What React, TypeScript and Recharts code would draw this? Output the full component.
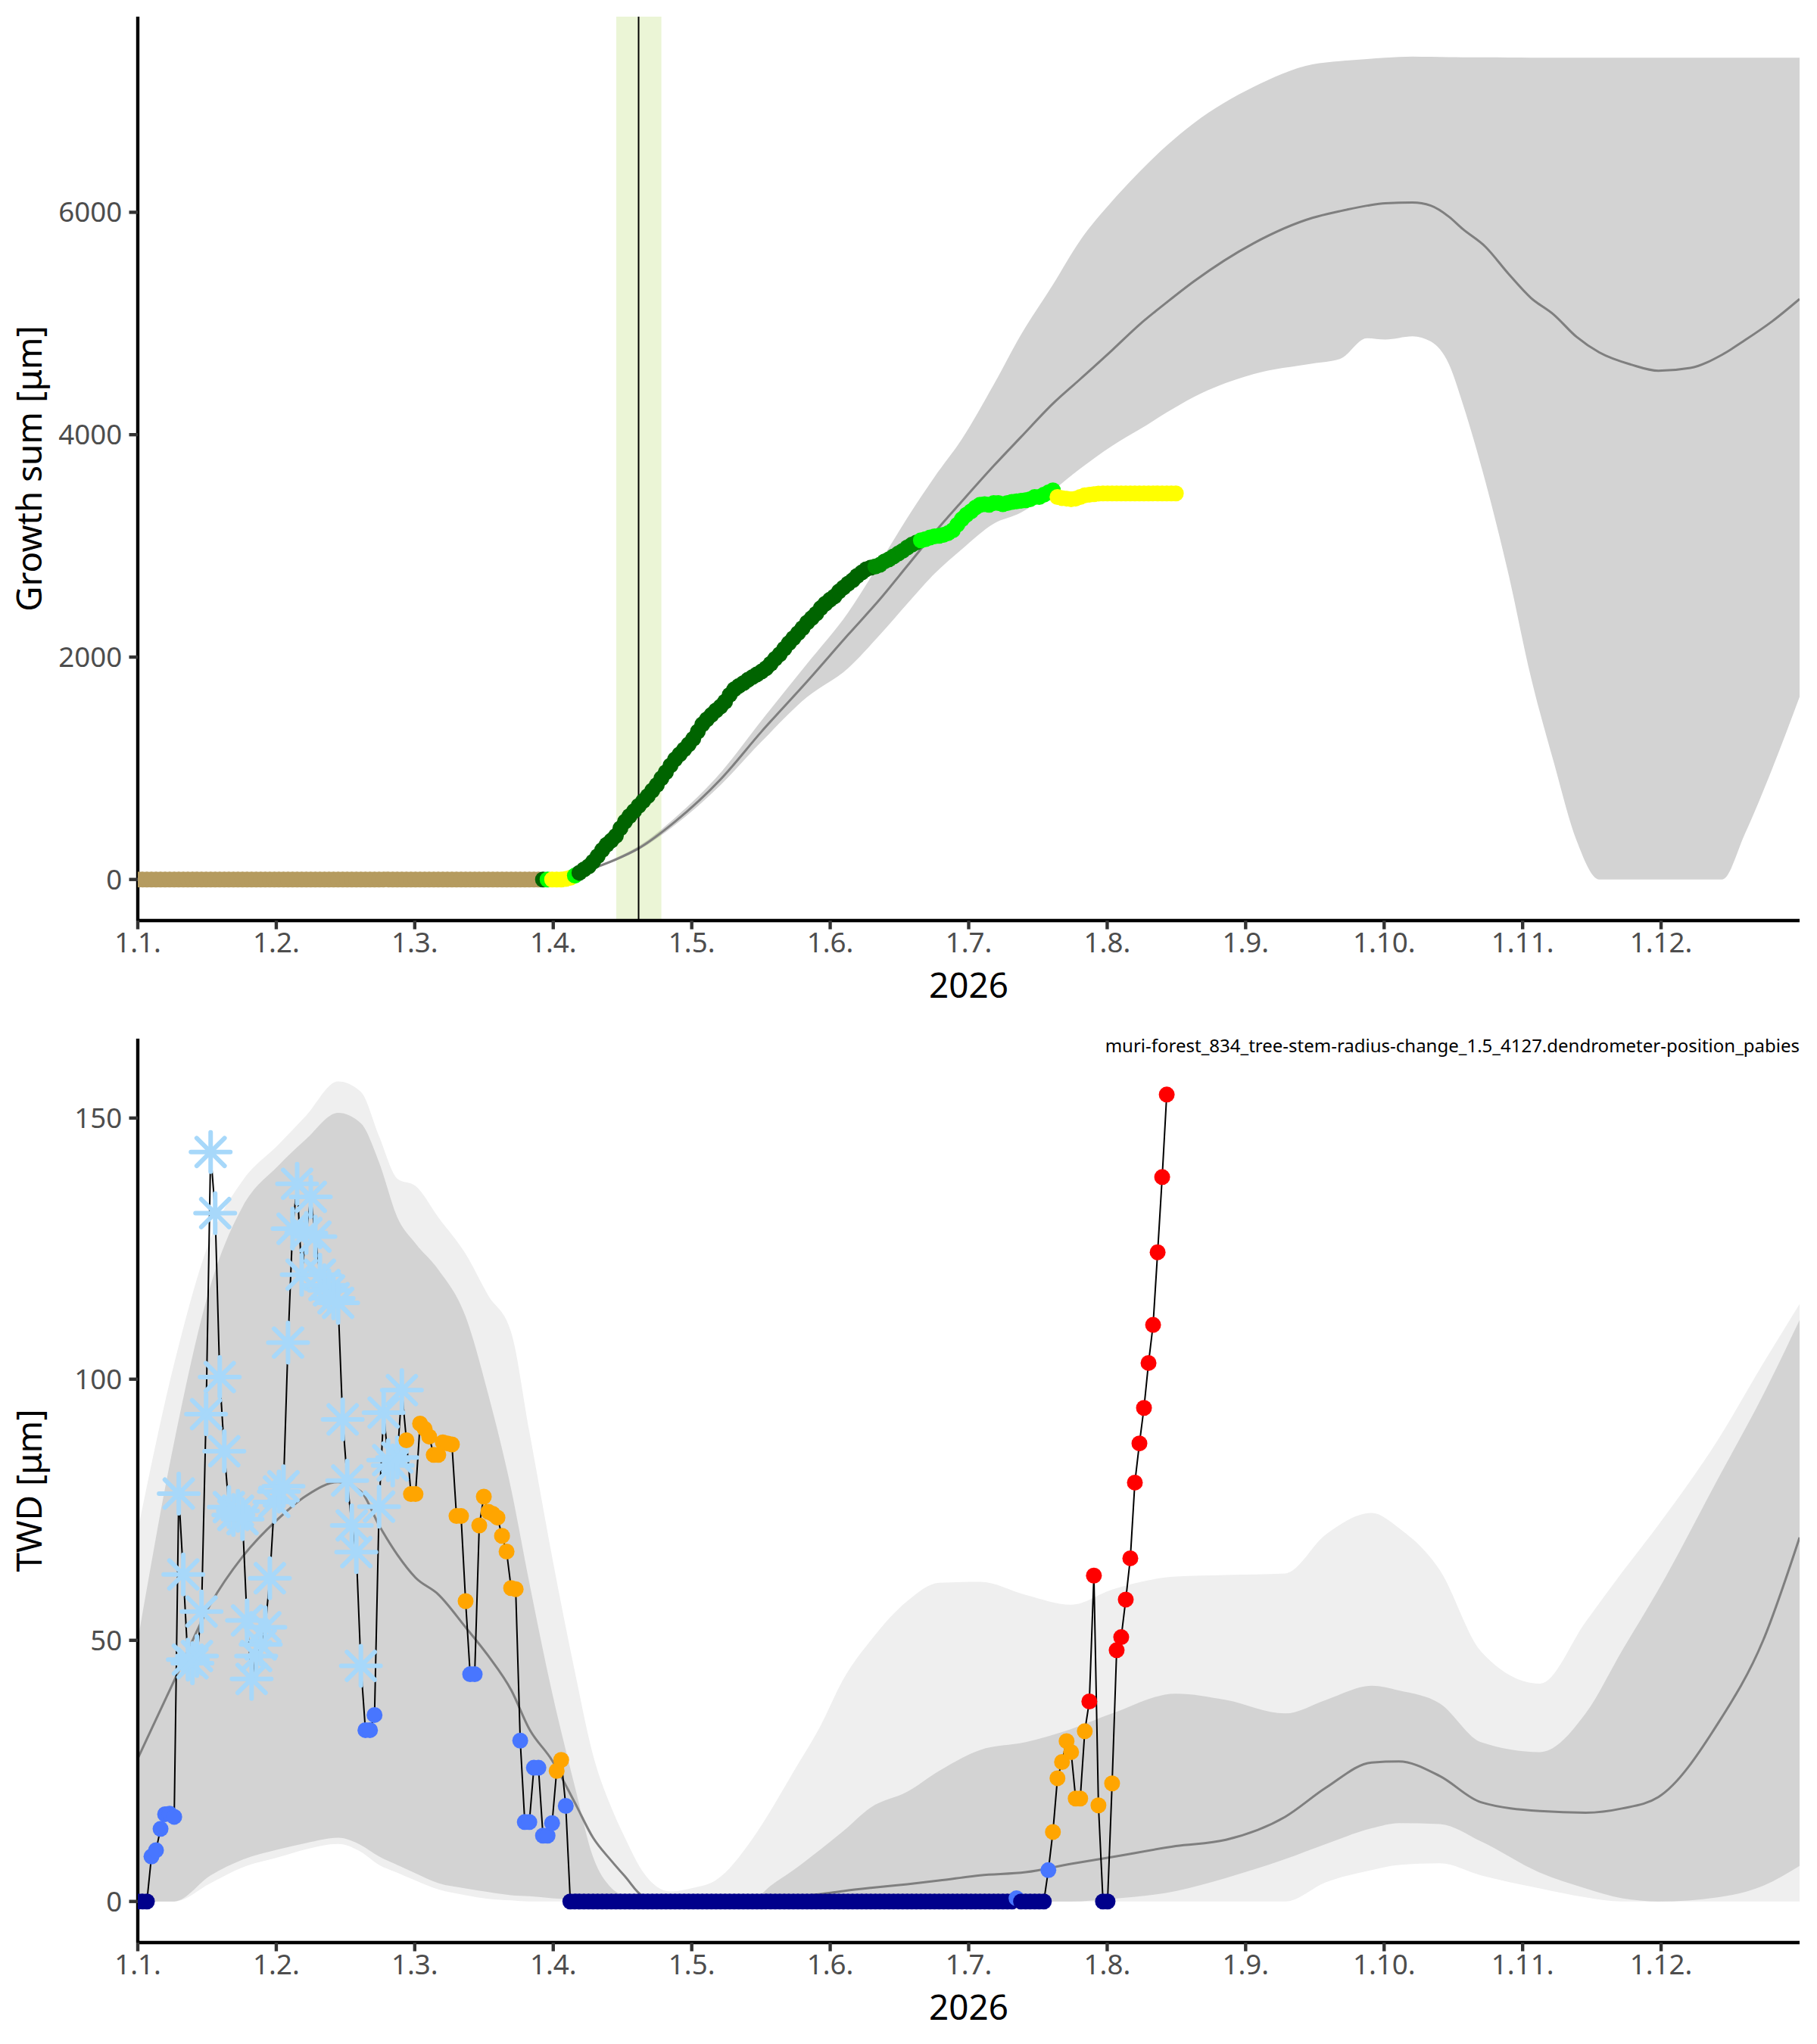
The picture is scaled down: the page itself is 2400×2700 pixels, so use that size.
import React from 'react';
import { ComposedChart, Area, Line, Scatter, XAxis, YAxis, ReferenceArea, ReferenceLine } from 'recharts';

const FONT = '"Noto Sans", "DejaVu Sans", sans-serif';
const TICK_STYLE = { fill: '#4D4D4D', fontSize: 36.7, fontFamily: FONT };
const AXIS_LINE = { stroke: '#000000', strokeWidth: 4.4 };
const TICK_LINE = { stroke: '#333333', strokeWidth: 4.4 };

// x axis = day of year (0 = 1 Jan), one tick every twelfth of the year
const monthTicks = [0, 30.42, 60.83, 91.25, 121.67, 152.08, 182.5, 212.92, 243.33, 273.75, 304.17, 334.58];
const monthLabels = ['1.1.', '1.2.', '1.3.', '1.4.', '1.5.', '1.6.', '1.7.', '1.8.', '1.9.', '1.10.', '1.11.', '1.12.'];

// ---- top panel: cumulative growth, one value per day starting 1 Jan ----
const growthValues = [
  0, 0, 0, 0, 0, 0, 0, 0, 0, 0,
  0, 0, 0, 0, 0, 0, 0, 0, 0, 0,
  0, 0, 0, 0, 0, 0, 0, 0, 0, 0,
  0, 0, 0, 0, 0, 0, 0, 0, 0, 0,
  0, 0, 0, 0, 0, 0, 0, 0, 0, 0,
  0, 0, 0, 0, 0, 0, 0, 0, 0, 0,
  0, 0, 0, 0, 0, 0, 0, 0, 0, 0,
  0, 0, 0, 0, 0, 0, 0, 0, 0, 0,
  0, 0, 0, 0, 0, 0, 0, 0, 0, 0,
  0, 0, 0, 0, 5, 15, 35, 60, 90, 117,
  160, 210, 265, 313, 350, 392, 460, 520, 570, 615,
  662, 705, 750, 800, 850, 910, 965, 1025, 1080, 1125,
  1170, 1215, 1265, 1330, 1395, 1440, 1480, 1520, 1555, 1600,
  1660, 1710, 1740, 1765, 1795, 1820, 1845, 1870, 1900, 1940,
  1985, 2025, 2075, 2125, 2170, 2215, 2260, 2310, 2350, 2390,
  2440, 2480, 2515, 2545, 2590, 2625, 2660, 2690, 2730, 2760,
  2790, 2805, 2815, 2830, 2860, 2880, 2905, 2930, 2955, 2985,
  3010, 3030, 3050, 3060, 3075, 3085, 3090, 3100, 3115, 3140,
  3190, 3240, 3280, 3310, 3345, 3370, 3375, 3370, 3385, 3385,
  3375, 3385, 3395, 3400, 3405, 3410, 3420, 3440, 3440, 3460,
  3480, 3500, 3440, 3430, 3425, 3420, 3425, 3440, 3455, 3460,
  3465, 3470, 3472, 3472, 3472, 3472, 3472, 3472, 3472, 3472,
  3472, 3472, 3472, 3472, 3472, 3472, 3472, 3472, 3472,
];
// T = dormant, D = growth, G = slowing, L = late growth, Y = stagnation
const growthKinds = (
  'TTTTTTTTTT' + 'TTTTTTTTTT' + 'TTTTTTTTTT' + 'TTTTTTTTTT' + 'TTTTTTTTTT' +
  'TTTTTTTTTT' + 'TTTTTTTTTT' + 'TTTTTTTTTT' + 'TTTTTTTTTD' + 'LYYYYYLDDD' +
  'DDDDDDDDDD' + 'DDDDDDDDDD' + 'DDDDDDDDDD' + 'DDDDDDDDDD' + 'DDDDDDDDDD' +
  'DDDDDDDDDD' + 'DDGGGGGGGG' + 'GGLLLLLLLL' + 'LLLLLLLLLL' + 'LLLLLLLLLL' +
  'LLYYYYYYYY' + 'YYYYYYYYYY' + 'YYYYYYYYY'
).split('');
const growthColors: Record<string, string> = {
  T: '#B59B5F', D: '#006400', G: '#008B00', L: '#00FF00', Y: '#FFFF00',
};

// reference ribbon (min / mean / max of earlier years)
const refDays = [90, 95, 100, 105, 110, 118, 128, 137, 147, 156, 163, 169, 175, 181, 188, 194, 201, 207, 214, 220, 226, 232, 245, 258, 264, 270, 274, 280, 284, 288, 291, 296, 301, 306, 311, 316, 321, 328, 334, 341, 348, 353, 359, 365];
const refLow = [0, 20, 95, 170, 265, 490, 850, 1240, 1640, 1900, 2200, 2480, 2750, 2970, 3200, 3300, 3500, 3695, 3900, 4047, 4200, 4340, 4545, 4640, 4680, 4868, 4856, 4885, 4838, 4633, 4281, 3578, 2757, 1818, 1056, 352, 0, 0, 0, 0, 0, 411, 997, 1642];
const refMean = [0, 30, 100, 180, 280, 520, 900, 1330, 1780, 2200, 2520, 2820, 3120, 3400, 3720, 3980, 4280, 4500, 4760, 4990, 5190, 5380, 5720, 5950, 6010, 6060, 6082, 6088, 6060, 5960, 5850, 5690, 5450, 5230, 5080, 4880, 4740, 4630, 4575, 4600, 4720, 4850, 5020, 5220];
const refHigh = [0, 40, 110, 195, 300, 555, 960, 1430, 1940, 2400, 2850, 3250, 3620, 3960, 4450, 4900, 5350, 5748, 6100, 6363, 6600, 6803, 7126, 7331, 7360, 7378, 7390, 7401, 7398, 7395, 7394, 7393, 7392, 7391, 7391, 7391, 7391, 7391, 7391, 7391, 7391, 7391, 7391, 7391];

// growth onset window and estimated onset day
const onsetStart = 105.1;
const onsetEnd = 115;
const onsetDay = 110;

// ---- bottom panel: tree water deficit, one value per day starting 1 Jan ----
const twdValues = [
  0, 0, 0, 8.6, 9.8, 13.9, 16.7, 16.8, 16.2, 78.1,
  62.6, 46.3, 45.6, 47.0, 55.5, 93.3, 143.5, 131.8, 100.4, 86.2,
  75.5, 74.0, 74.8, 73.2, 53.8, 42.6, 47.0, 49.2, 52.5, 61.9,
  76.5, 78.5, 79.5, 107, 128.8, 137.4, 120, 128, 134.9, 127.3,
  120, 118, 117, 115.5, 114.6, 92.3, 80.6, 72, 66.9, 45.1,
  32.8, 32.8, 35.7, 75.6, 93.6, 84.5, 83.5, 85, 97.9, 88.3,
  78, 78, 91.5, 90.5, 89, 85.5, 85.5, 87.9, 87.7, 87.5,
  73.8, 73.8, 57.5, 43.5, 43.5, 72, 77.5, 74.6, 74.2, 73.5,
  70, 67, 60, 59.8, 30.8, 15.2, 15.2, 25.6, 25.6, 12.6,
  12.6, 15, 25, 27.1, 18.3, 0, 0, 0, 0, 0,
  0, 0, 0, 0, 0, 0, 0, 0, 0, 0,
  0, 0, 0, 0, 0, 0, 0, 0, 0, 0,
  0, 0, 0, 0, 0, 0, 0, 0, 0, 0,
  0, 0, 0, 0, 0, 0, 0, 0, 0, 0,
  0, 0, 0, 0, 0, 0, 0, 0, 0, 0,
  0, 0, 0, 0, 0, 0, 0, 0, 0, 0,
  0, 0, 0, 0, 0, 0, 0, 0, 0, 0,
  0, 0, 0, 0, 0, 0, 0, 0, 0, 0,
  0, 0, 0, 0, 0, 0, 0, 0, 0, 0,
  0, 0, 0, 0.6, 0, 0, 0, 0, 0, 0,
  6.0, 13.3, 23.6, 26.7, 30.7, 28.6, 19.7, 19.7, 32.6, 38.3,
  62.4, 18.4, 0, 0, 22.6, 48.1, 50.6, 57.8, 65.7, 80.2,
  87.7, 94.5, 103.1, 110.4, 124.3, 138.7, 154.5,
];
// n = none, b = low, s = frost, o = moderate, r = high
const twdKinds = (
  'nnnbbbbbbs' + 'ssssssssss' + 'ssssssssss' + 'ssssssssss' + 'ssssssssss' +
  'bbbsssssso' + 'oooooooooo' + 'ooobbooooo' + 'oooobbbbbb' + 'bboobnnnnn' +
  'nnnnnnnnnn' + 'nnnnnnnnnn' + 'nnnnnnnnnn' + 'nnnnnnnnnn' + 'nnnnnnnnnn' +
  'nnnnnnnnnn' + 'nnnnnnnnnn' + 'nnnnnnnnnn' + 'nnnnnnnnnn' + 'nnnbnnnnnn' +
  'boooooooor' + 'ronnorrrrr' + 'rrrrrrr'
).split('');
const twdColors: Record<string, string> = {
  n: '#00008B', b: '#4876FF', s: '#A7D8FA', o: '#FFA500', r: '#FF0000',
};

const twdBandDays = [0, 8, 16, 23, 31, 37, 44, 49, 53, 57, 61, 66, 72, 77, 82, 86, 91, 96, 100, 104, 107, 111, 117, 122, 127, 135, 139, 144, 150, 155, 161, 169, 176, 185, 195, 205, 214, 228, 239, 252, 261, 271, 277, 286, 295, 308, 318, 326, 334, 347, 357, 365];
const twdOuterLow = [0, 0, 3.5, 6.5, 8.5, 10, 11, 9.5, 7, 5.5, 4, 2.3, 1.2, 0.5, 0.2, 0, 0, 0, 0, 0, 0, 0, 0, 0, 0, 0, 0, 0, 0, 0, 0, 0, 0, 0, 0, 0, 0, 0, 0, 0, 3.7, 6, 7, 7.3, 5, 2.5, 0.8, 0, 0, 0, 0, 0];
const twdInnerLow = [0, 0, 5, 8, 10, 11.2, 12.2, 10.8, 8.6, 7, 5.4, 3.5, 2.5, 1.8, 1.2, 1, 0.6, 0.3, 0, 0, 0, 0, 0, 0, 0, 0, 0, 0, 0, 0, 0, 0, 0, 0, 0, 0, 0.5, 2, 4.5, 8.1, 11, 14, 15, 14.8, 11.5, 5.5, 2.5, 0.6, 0, 0.8, 3, 6.8];
const twdMean = [27.4, 42.3, 57, 66, 73.4, 77.7, 80.3, 78.5, 72, 66.4, 62, 58.8, 52.5, 47, 40.5, 33, 27, 18.9, 12.2, 7.8, 4.8, 1, 0, 0, 0, 0.2, 0.5, 0.9, 1.4, 2, 2.6, 3.3, 4, 5, 5.6, 7.2, 8.5, 10.6, 11.8, 16.2, 21.8, 26.6, 26.8, 24, 19, 17.3, 17, 17.8, 20, 34, 50, 69.7];
const twdInnerHigh = [50, 88, 118, 133, 141, 146, 151, 149, 141.5, 131, 126, 121, 112, 97, 79, 61, 40, 22, 8.5, 2.6, 1, 0, 0, 0, 0, 0.3, 3, 6, 10, 13.5, 18, 21, 25, 29, 30.5, 33, 36, 39.8, 38.6, 36, 38.6, 41.3, 40.4, 37.9, 30.5, 28.6, 36, 48, 59.7, 80.8, 97, 111.3];
const twdOuterHigh = [71, 103, 127, 138, 145, 150.5, 157, 155, 146.5, 138.4, 137, 131, 124, 116, 109, 90, 66, 44, 28, 18, 12.2, 5.6, 1.9, 2.6, 4.1, 12, 17.4, 24.8, 33.7, 42.6, 50, 57.5, 61, 61.2, 58.7, 56.8, 59.7, 62.2, 62.5, 62.8, 70.3, 74.4, 71.5, 63.4, 47.9, 41.7, 53.5, 63, 72.1, 88.3, 103, 114.4];

const annotation = 'muri-forest_834_tree-stem-radius-change_1.5_4127.dendrometer-position_pabies';

// ---- derived series ----
const growthPts = growthValues.map((v, i) => ({ x: i, y: v, k: growthKinds[i] }));
const refRows = refDays.map((d, i) => ({ x: d, band: [refLow[i], refHigh[i]], mean: refMean[i] }));
const twdPts = twdValues.map((v, i) => ({ x: i, y: v, k: twdKinds[i] }));
const twdRows = twdBandDays.map((d, i) => ({
  x: d,
  outer: [twdOuterLow[i], twdOuterHigh[i]],
  inner: [twdInnerLow[i], twdInnerHigh[i]],
  mean: twdMean[i],
}));

const fmtMonth = (v: number) => monthLabels[monthTicks.indexOf(v)] ?? '';

const xTitle = (props: any) => {
  const vb = props.viewBox;
  return (
    <text x={vb.x + vb.width / 2} y={vb.y + 84} textAnchor="middle" dominantBaseline="central"
      fontSize={45.8} fontFamily={FONT} fill="#000">2026</text>
  );
};
const yTitle = (label: string) => (props: any) => {
  const vb = props.viewBox;
  const cy = vb.y + vb.height / 2;
  return (
    <text x={37} y={cy} transform={`rotate(-90, 37, ${cy})`} textAnchor="middle" dominantBaseline="central"
      fontSize={45.8} fontFamily={FONT} fill="#000">{label}</text>
  );
};

const growthDot = (p: any) => (
  <circle cx={p.cx} cy={p.cy} r={10.5} fill={growthColors[p.payload.k]} />
);

const twdDot = (p: any) => {
  const c = twdColors[p.payload.k];
  if (p.payload.k === 's') {
    const r = 26;
    const q = r / Math.SQRT2;
    return (
      <g stroke={c} strokeWidth={6} strokeLinecap="round">
        <line x1={p.cx - r} y1={p.cy} x2={p.cx + r} y2={p.cy} />
        <line x1={p.cx} y1={p.cy - r} x2={p.cx} y2={p.cy + r} />
        <line x1={p.cx - q} y1={p.cy - q} x2={p.cx + q} y2={p.cy + q} />
        <line x1={p.cx - q} y1={p.cy + q} x2={p.cx + q} y2={p.cy - q} />
      </g>
    );
  }
  return <circle cx={p.cx} cy={p.cy} r={10.5} fill={c} />;
};

const MARGIN = { top: 22, right: 23, bottom: 0, left: 0 };

function GrowthPanel() {
  return (
    <ComposedChart width={2400} height={1350} margin={MARGIN}>
      <XAxis type="number" dataKey="x" domain={[0, 365]} ticks={monthTicks} tickFormatter={fmtMonth}
        allowDataOverflow height={134} tick={TICK_STYLE} tickSize={11.5} tickMargin={4.5}
        axisLine={AXIS_LINE} tickLine={TICK_LINE} label={{ content: xTitle }} />
      <YAxis type="number" dataKey="y" domain={[-369.5, 7759.5]} ticks={[0, 2000, 4000, 6000]}
        allowDataOverflow width={182} tick={TICK_STYLE} tickSize={11.5} tickMargin={9.2}
        axisLine={AXIS_LINE} tickLine={TICK_LINE} label={{ content: yTitle('Growth sum [μm]') }} />
      <Area data={refRows} dataKey="band" type="monotone" fill="#D3D3D3" fillOpacity={1} stroke="none"
        isAnimationActive={false} />
      <Line data={refRows} dataKey="mean" type="monotone" stroke="#7F7F7F" strokeWidth={3} dot={false}
        isAnimationActive={false} />
      <Scatter data={growthPts} dataKey="y" shape={growthDot} isAnimationActive={false} />
      <ReferenceArea x1={onsetStart} x2={onsetEnd} fill="#9ACD32" fillOpacity={0.2} stroke="none" />
      <ReferenceLine x={onsetDay} stroke="#000" strokeWidth={2} />
    </ComposedChart>
  );
}

function TwdPanel() {
  return (
    <ComposedChart width={2400} height={1350} margin={MARGIN}>
      <XAxis type="number" dataKey="x" domain={[0, 365]} ticks={monthTicks} tickFormatter={fmtMonth}
        allowDataOverflow height={134} tick={TICK_STYLE} tickSize={11.5} tickMargin={4.5}
        axisLine={AXIS_LINE} tickLine={TICK_LINE} label={{ content: xTitle }} />
      <YAxis type="number" dataKey="y" domain={[-7.87, 165.2]} ticks={[0, 50, 100, 150]}
        allowDataOverflow width={182} tick={TICK_STYLE} tickSize={11.5} tickMargin={9.2}
        axisLine={AXIS_LINE} tickLine={TICK_LINE} label={{ content: yTitle('TWD [μm]') }} />
      <Area data={twdRows} dataKey="outer" type="monotone" fill="#EFEFEF" fillOpacity={1} stroke="none"
        isAnimationActive={false} />
      <Area data={twdRows} dataKey="inner" type="monotone" fill="#D3D3D3" fillOpacity={1} stroke="none"
        isAnimationActive={false} />
      <Line data={twdRows} dataKey="mean" type="monotone" stroke="#7F7F7F" strokeWidth={3} dot={false}
        isAnimationActive={false} />
      <Line data={twdPts} dataKey="y" type="linear" stroke="#000" strokeWidth={2} dot={false}
        isAnimationActive={false} />
      <Scatter data={twdPts} dataKey="y" shape={twdDot} isAnimationActive={false} />
    </ComposedChart>
  );
}

export default function App() {
  return (
    <div style={{ position: 'relative', width: 2400, height: 2700, background: '#fff', fontFamily: FONT }}>
      <style>{'body{margin:0}'}</style>
      <div style={{ position: 'absolute', left: 0, top: 0 }}>
        <GrowthPanel />
      </div>
      <div style={{ position: 'absolute', left: 0, top: 1350 }}>
        <TwdPanel />
      </div>
      <div style={{ position: 'absolute', right: 23, top: 1366, fontSize: 24, lineHeight: '30px', color: '#000', whiteSpace: 'nowrap' }}>
        {annotation}
      </div>
    </div>
  );
}
